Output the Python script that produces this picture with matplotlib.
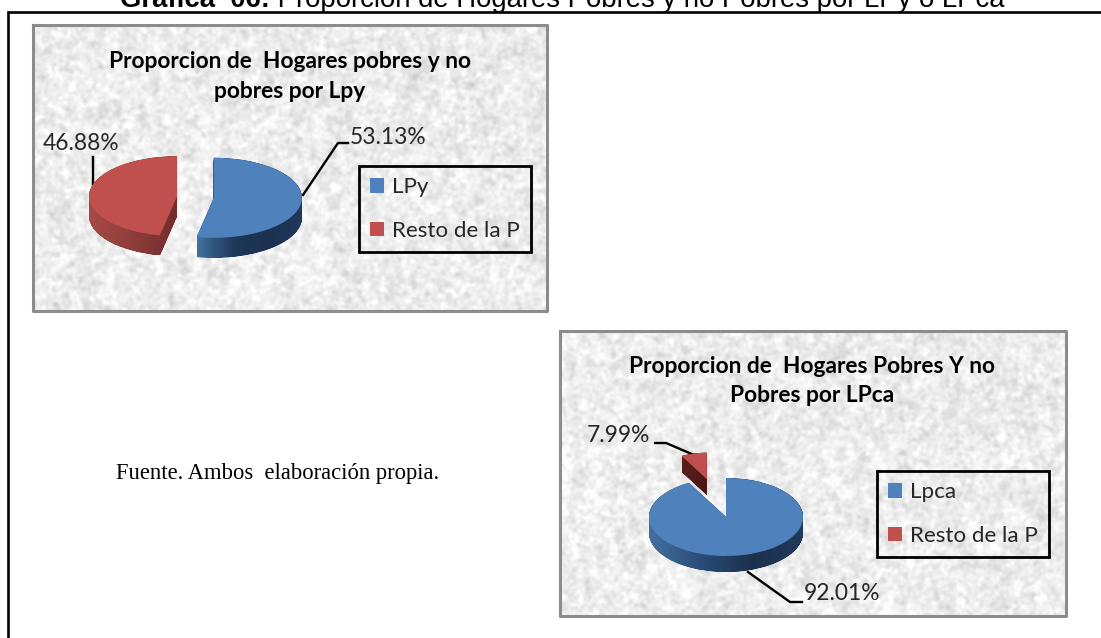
import numpy as np
import matplotlib
matplotlib.use("Agg")
import matplotlib.pyplot as plt
from matplotlib.colors import LinearSegmentedColormap
from matplotlib.path import Path

W, H = 1101, 638

# data
lpy_labels = ["LPy", "Resto de la P"]
lpy_values = [53.13, 46.88]
lpca_labels = ["Lpca", "Resto de la P"]
lpca_values = [92.01, 7.99]

lpy_title = "Proporcion de  Hogares pobres y no\npobres por Lpy"
lpca_title = "Proporcion de  Hogares Pobres Y no\nPobres por LPca"
source_text = "Fuente. Ambos  elaboración propia."
heading_bold = "Gráfica  06:"
heading_rest = " Proporción de Hogares Pobres y no Pobres por LPy o LPca"

BLUE = "#4f81bd"
RED = "#c0504d"
CHART_FONT = "Lato"


def granite(w, h, seed):
    # mottled paper look for the chart backgrounds (sine hash, blurred)
    yy, xx = np.mgrid[0:h, 0:w]
    n = np.sin(xx * 12.9898 + yy * 78.233 + seed) * 43758.5453
    n = n - np.floor(n) - 0.5
    fy = np.fft.fftfreq(h)[:, None]
    fx = np.fft.fftfreq(w)[None, :]
    out = np.zeros((h, w))
    for sigma, weight in ((1.5, 1.0), (4.0, 0.4)):
        g = np.exp(-2 * (np.pi * sigma) ** 2 * (fx ** 2 + fy ** 2))
        s = np.fft.ifft2(np.fft.fft2(n) * g).real
        out += weight * s / s.std()
    return np.clip(0.925 + 0.024 * out, 0, 1)


def chart_panel(ax, x0, y0, x1, y1, seed):
    ax.imshow(granite(x1 - x0, y1 - y0, seed), cmap="gray", vmin=0, vmax=1,
              extent=(x0, x1, y1, y0), interpolation="bilinear", aspect="auto")
    ax.plot([x0, x1, x1, x0, x0], [y0, y0, y1, y1, y0], color="#8c8c8c", lw=2.2)


def pie_3d(fig, values, labels, cx, cy, rx, ry, depth, explode, radii, side_cols,
           legend_box, legend_opts):
    # pie drawn on a stretched axes, the extruded side sits under the top face
    sx, sy = 1.8, 2.2
    ax = fig.add_axes([(cx - sx * rx) / W, 1 - (cy + sy * ry) / H,
                       2 * sx * rx / W, 2 * sy * ry / H])
    wedges, _ = ax.pie(values, colors=[BLUE, RED], startangle=90, counterclock=False,
                       explode=explode, wedgeprops=dict(linewidth=0))
    for wedge, r in zip(wedges, radii):
        wedge.set_radius(r)
    ax.set_aspect("auto")
    d = depth / ry
    for wedge, cols in zip(wedges, side_cols):
        path = wedge.get_patch_transform().transform_path(wedge.get_path())
        copies = [Path(path.vertices - [0, d * i / 48], path.codes) for i in range(49)]
        side = Path.make_compound_path(*copies)
        x = path.vertices[:, 0]
        y = path.vertices[:, 1]
        cmap = LinearSegmentedColormap.from_list("side", cols)
        im = ax.imshow(np.linspace(0, 1, 256)[None, :], cmap=cmap, aspect="auto",
                       extent=(x.min(), x.max(), y.min() - d, y.max()), zorder=0)
        im.set_clip_path(side, transform=ax.transData)
    ax.set_xlim(-sx, sx)
    ax.set_ylim(-sy, sy)
    ax.set_aspect("auto")
    ax.patch.set_alpha(0)
    ax.axis("off")
    leg = ax.legend(wedges, labels, loc="upper left", borderaxespad=0,
                    bbox_to_anchor=(legend_box[0] / W, 1 - legend_box[1] / H),
                    bbox_transform=fig.transFigure, fancybox=False, framealpha=1,
                    facecolor="none", edgecolor="black",
                    prop=dict(family=CHART_FONT, size=16.1),
                    handlelength=0.62, handleheight=0.62, **legend_opts)
    leg.get_frame().set_linewidth(2.0)
    for t in leg.get_texts():
        t.set_color("#262626")
    return ax


def main():
    fig = plt.figure(figsize=(W / 100, H / 100), dpi=100)
    bg = fig.add_axes([0, 0, 1, 1])

    # outer frame of the page, open on the right and at the bottom
    bg.plot([7.5, 7.5, W], [H, 11.5, 11.5], color="black", lw=1.9, solid_joinstyle="miter")

    chart_panel(bg, 33, 25, 547, 311, 1.0)
    chart_panel(bg, 560, 331, 1066, 616, 7.0)

    bg.set_xlim(0, W)
    bg.set_ylim(H, 0)
    bg.axis("off")

    head = bg.text(120, 7, heading_bold, family="Liberation Sans", weight="bold",
                   fontsize=19.8, va="baseline", ha="left", color="black")
    box = head.get_window_extent(fig.canvas.get_renderer())
    bg.text(box.x1, 7, heading_rest, family="Liberation Sans",
            fontsize=19.8, va="baseline", ha="left", color="black")

    bg.text(278, 474, source_text, family="Liberation Serif", fontsize=16.3,
            ha="center", va="center", color="black")

    bg.text(290, 76.5, lpy_title, family=CHART_FONT, weight="bold", fontsize=16.4,
            ha="center", va="center", linespacing=1.5, color="black")
    bg.text(812, 381, lpca_title, family=CHART_FONT, weight="bold", fontsize=16.4,
            ha="center", va="center", linespacing=1.45, color="black")

    # value labels with their leader lines
    for value, x, y in ((lpy_values[0], 350, 138), (lpy_values[1], 43, 143),
                        (lpca_values[1], 587, 436), (lpca_values[0], 804, 594)):
        bg.text(x, y, f"{value:.2f}%", family=CHART_FONT, fontsize=16.4,
                ha="left", va="center", color="#262626")
    for xs, ys in (([303, 338, 348], [195, 143, 143]), ([93, 93], [157, 187]),
                   ([655, 666, 694], [443, 443, 455]), ([748, 790, 802], [572, 602, 602])):
        bg.plot(xs, ys, color="black", lw=1.7)

    pie_3d(fig, lpy_values, lpy_labels, 195.5, 197, 88, 40, 20, (0.21, 0.21), (1.0, 1.0),
           [["#44709f", "#1f3a5c", "#1b304d", "#203a5c"],
            ["#a94b48", "#8f3d3b", "#732c2b"]],
           (359, 166), dict(borderpad=0.5, labelspacing=1.05, handletextpad=0.35))
    pie_3d(fig, lpca_values, lpca_labels, 726, 517, 77, 39, 16, (0, 1.0), (1.0, 0.68),
           [["#44709f", "#2a4d78", "#1b304d", "#203a5c"],
            ["#5a1f1d", "#4a1614"]],
           (877, 471), dict(borderpad=0.5, labelspacing=1.05, handletextpad=0.35))

    fig.savefig("out.png", dpi=100)
    plt.close()


if __name__ == "__main__":
    main()
